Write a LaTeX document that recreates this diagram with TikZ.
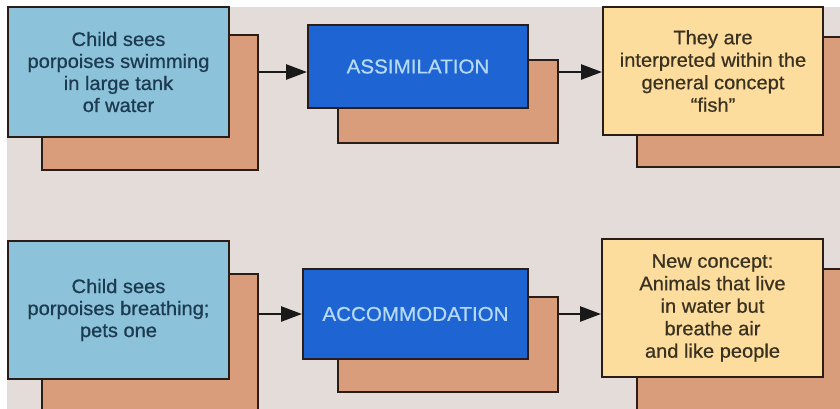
\documentclass[tikz,border=0pt]{standalone}
\usepackage{fontspec}
\setmainfont{Liberation Sans}[FakeBold=0.7,FakeStretch=1.03]
\usetikzlibrary{arrows.meta}
\definecolor{bgc}{HTML}{E4DCD9}
\definecolor{skyc}{HTML}{8CC3DA}
\definecolor{tanc}{HTML}{D99D7C}
\definecolor{royc}{HTML}{1F64D3}
\definecolor{paleblue}{HTML}{B4DAF6}
\definecolor{creamc}{HTML}{FCDD9E}
\definecolor{edgec}{HTML}{2A1C16}
\definecolor{navytxt}{HTML}{1C3A50}
\definecolor{browntxt}{HTML}{3A3220}
\begin{document}
\begin{tikzpicture}[x=1pt,y=-1pt,
  boxbase/.style={draw=edgec,line width=2pt,rectangle,inner sep=0pt,anchor=center},
  shadowbox/.style={boxbase,fill=tanc},
  srcbox/.style={boxbase,fill=skyc,text=navytxt,font=\fontsize{19.5}{22}\selectfont,align=center},
  procbox/.style={boxbase,fill=royc,text=paleblue,font=\fontsize{20}{24}\selectfont},
  resbox/.style={boxbase,fill=creamc,text=browntxt,font=\fontsize{19.5}{22.5}\selectfont,align=center},
  arr/.style={draw=black!90,line width=2.6pt,-{Triangle[length=21pt,width=15pt]}}]
\useasboundingbox (0,0) rectangle (840,408);
\clip (0,0) rectangle (840,408);
\fill[white] (0,0) rectangle (840,408);
\fill[bgc] (7,7) rectangle (845,412);
% row 1
\node[shadowbox,minimum width=216pt,minimum height=135pt] (s1) at (150,102.5) {};
\node[srcbox,minimum width=221pt,minimum height=130pt] (b1) at (118.5,72) {Child sees\\porpoises swimming\\in large tank\\of water};
\node[shadowbox,minimum width=220pt,minimum height=83pt] (s2) at (448,101.5) {};
\node[procbox,minimum width=220pt,minimum height=83pt] (b2) at (418,66.5) {ASSIMILATION};
\node[shadowbox,minimum width=213pt,minimum height=130pt] (s3) at (743.5,102) {};
\node[resbox,minimum width=220pt,minimum height=128pt] (b3) at (713,71) {They are\\interpreted within the\\general concept\\``fish''};
\coordinate (r1) at (0,72);
\draw[arr] (s1.east |- r1) -- (b2.west |- r1);
\draw[arr] (s2.east |- r1) -- (b3.west |- r1);
% row 2
\node[shadowbox,minimum width=216pt,minimum height=146pt] (s4) at (150,347) {};
\node[srcbox,minimum width=221pt,minimum height=138pt] (b4) at (118.5,310) {Child sees\\porpoises breathing;\\pets one};
\node[shadowbox,minimum width=220pt,minimum height=95pt] (s5) at (448,344.5) {};
\node[procbox,minimum width=225pt,minimum height=90pt] (b5) at (415.5,314) {ACCOMMODATION};
\node[shadowbox,minimum width=213pt,minimum height=151pt] (s6) at (743.5,344.5) {};
\node[resbox,minimum width=221pt,minimum height=138pt] (b6) at (712.5,308) {New concept:\\Animals that live\\in water but\\breathe air\\and like people};
\coordinate (r2) at (0,314);
\draw[arr] (s4.east |- r2) -- (b5.west |- r2);
\draw[arr] (s5.east |- r2) -- (b6.west |- r2);
\end{tikzpicture}
\end{document}
